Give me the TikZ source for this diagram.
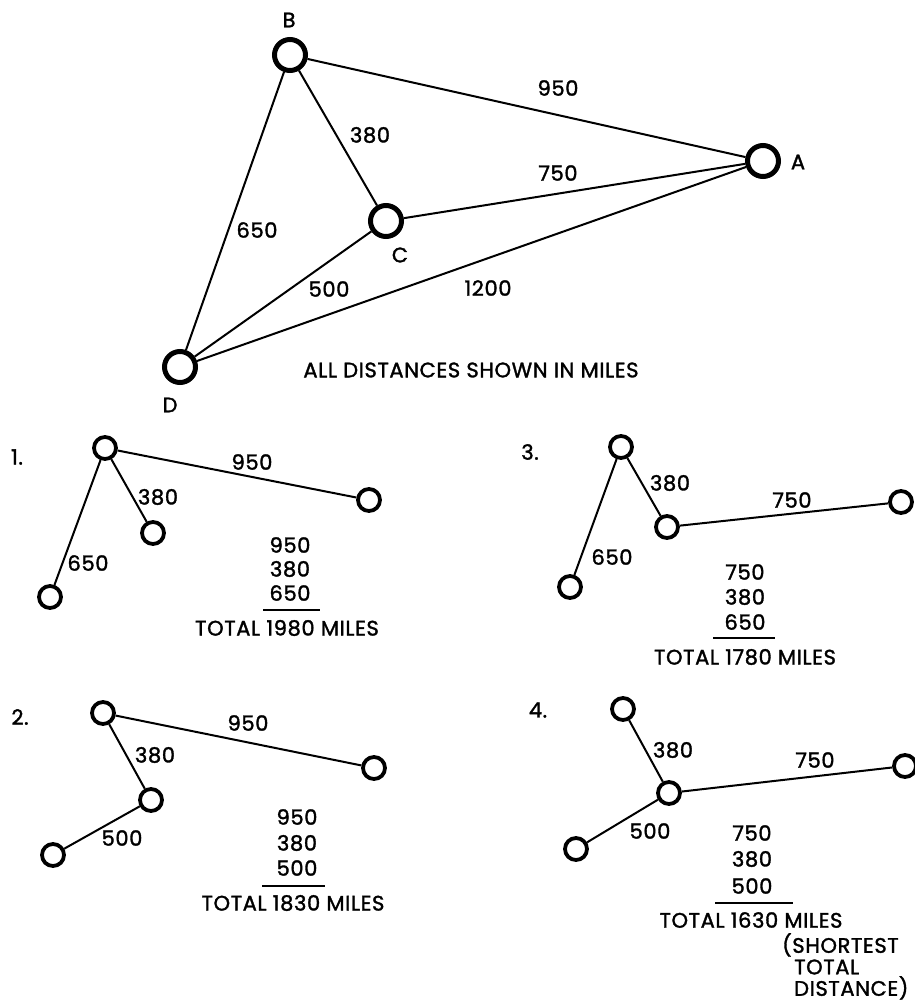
\documentclass[tikz,border=0pt]{standalone}
\usepackage{fontspec}
\setmainfont{Poppins}[FakeBold=1.6,LetterSpace=3]
\begin{document}
\begin{tikzpicture}[x=1pt,y=-1pt,
  bigc/.style={circle,draw,line width=5pt,minimum size=31pt,inner sep=0pt},
  smallc/.style={circle,draw,line width=3.8pt,minimum size=22pt,inner sep=0pt},
  edge/.style={line width=2pt},
  lbl/.style={inner sep=0pt,font=\fontsize{21}{23}\selectfont},
  sumline/.style={line width=1.6pt}]
\useasboundingbox (0,0) rectangle (915,1002);
% main graph
\node[bigc] (B) at (290,55) {};
\node[bigc] (A) at (763,161) {};
\node[bigc] (C) at (386,221) {};
\node[bigc] (D) at (180,367) {};
\node[lbl] (lB) at (289,20) {B};
\node[lbl] (lA) at (798,162) {A};
\node[lbl] (lC) at (400,255) {C};
\node[lbl] (lD) at (170,405) {D};
\draw[edge] (B) -- (A);
\draw[edge] (B) -- (C);
\draw[edge] (B) -- (D);
\draw[edge] (C) -- (A);
\draw[edge] (C) -- (D);
\draw[edge] (D) -- (A);
\node[lbl] (e950) at (558,88) {950};
\node[lbl] (e380) at (370,135) {380};
\node[lbl] (e750) at (558,173) {750};
\node[lbl] (e650) at (257,230) {650};
\node[lbl] (e500) at (329,289) {500};
\node[lbl] (e1200) at (488,288) {1200};
\node[lbl] (note) at (471,370) {ALL DISTANCES SHOWN IN MILES};
% 1
\node[lbl] (n1) at (17,457) {1.};
\node[smallc] (a1) at (105,448) {};
\node[smallc] (b1) at (369,500) {};
\node[smallc] (c1) at (153,533) {};
\node[smallc] (d1) at (50,597) {};
\draw[edge] (a1) -- (b1);
\draw[edge] (a1) -- (c1);
\draw[edge] (a1) -- (d1);
\node[lbl] at (252,462) {950};
\node[lbl] at (158,497) {380};
\node[lbl] at (88,563) {650};
\node[lbl] at (290,545) {950};
\node[lbl] at (290,569) {380};
\node[lbl] at (290,593) {650};
\draw[sumline] (263,610) -- (320,610);
\node[lbl] at (287,628) {TOTAL 1980 MILES};
% 3
\node[lbl] (n3) at (530,452) {3.};
\node[smallc] (a3) at (621,447) {};
\node[smallc] (c3) at (667,527) {};
\node[smallc] (b3) at (901,502) {};
\node[smallc] (d3) at (570,587) {};
\draw[edge] (a3) -- (c3);
\draw[edge] (c3) -- (b3);
\draw[edge] (a3) -- (d3);
\node[lbl] at (670,483) {380};
\node[lbl] at (792,500) {750};
\node[lbl] at (612,557) {650};
\node[lbl] at (745,572) {750};
\node[lbl] at (745,597) {380};
\node[lbl] at (745,622) {650};
\draw[sumline] (713,638) -- (775,638);
\node[lbl] at (745,657) {TOTAL 1780 MILES};
% 2
\node[lbl] (n2) at (20,717) {2.};
\node[smallc] (a2) at (103,713) {};
\node[smallc] (b2) at (374,768) {};
\node[smallc] (c2) at (151,800) {};
\node[smallc] (d2) at (53,855) {};
\draw[edge] (a2) -- (b2);
\draw[edge] (a2) -- (c2);
\draw[edge] (c2) -- (d2);
\node[lbl] at (248,723) {950};
\node[lbl] at (155,755) {380};
\node[lbl] at (122,838) {500};
\node[lbl] at (297,817) {950};
\node[lbl] at (297,843) {380};
\node[lbl] at (297,868) {500};
\draw[sumline] (262,886) -- (325,886);
\node[lbl] at (293,903) {TOTAL 1830 MILES};
% 4
\node[lbl] (n4) at (538,710) {4.};
\node[smallc] (a4) at (623,709) {};
\node[smallc] (c4) at (669,793) {};
\node[smallc] (b4) at (905,766) {};
\node[smallc] (d4) at (576,849) {};
\draw[edge] (a4) -- (c4);
\draw[edge] (c4) -- (b4);
\draw[edge] (c4) -- (d4);
\node[lbl] at (673,750) {380};
\node[lbl] at (815,760) {750};
\node[lbl] at (650,831) {500};
\node[lbl] at (752,833) {750};
\node[lbl] at (752,859) {380};
\node[lbl] at (752,886) {500};
\draw[sumline] (715,903) -- (793,903);
\node[lbl] at (751,920) {TOTAL 1630 MILES};
\node[lbl,anchor=north west,align=left,font=\fontsize{21}{21.5}\selectfont] (short) at (782,933)
  {(SHORTEST\\\hspace*{12pt}TOTAL\\\hspace*{12pt}DISTANCE)};
\end{tikzpicture}
\end{document}
